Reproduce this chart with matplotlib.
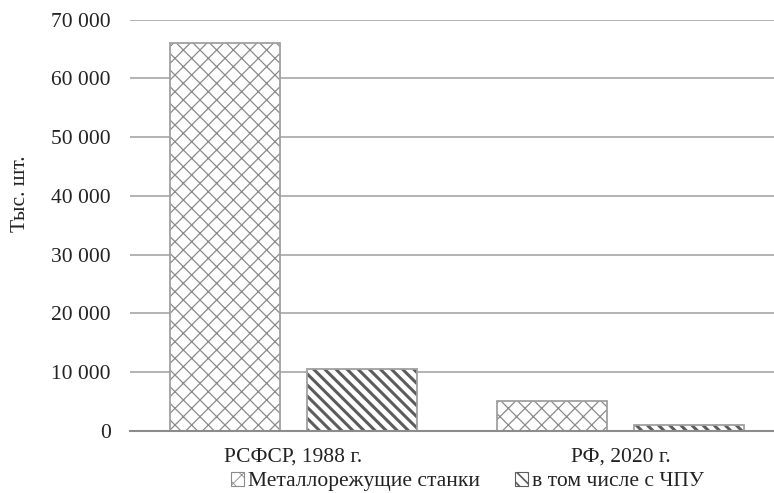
import numpy as np
import matplotlib.pyplot as plt
from matplotlib.ticker import FuncFormatter

plt.rcParams['font.family'] = ['Liberation Serif', 'DejaVu Serif']

categories = ["РСФСР, 1988 г.", "РФ, 2020 г."]
series_names = ["Металлорежущие станки", "в том числе с ЧПУ"]
metal = [66000, 5100]
cnc = [10500, 1000]

fig = plt.figure(figsize=(7.74, 4.93), dpi=100)
ax = fig.add_axes([0.168, 0.126, 0.832, 0.834])

x = np.arange(len(categories))
w = 0.336
off = 0.21
hatch_lw = [0.9, 2.2]
fs = 15.5

# hatch colour follows the edge colour, so draw the fill and the outline separately
b1 = ax.bar(x - off, metal, w, color="white", edgecolor="#8a8a8a",
            hatch="xx", linewidth=0, label=series_names[0], zorder=3)
b2 = ax.bar(x + off, cnc, w, color="white", edgecolor="#5c5c5c",
            hatch="\\\\\\", linewidth=0, label=series_names[1], zorder=3)
for bars, lw in zip([b1, b2], hatch_lw):
    for r in bars:
        r.set_hatch_linewidth(lw)
ax.bar(x - off, metal, w, fill=False, edgecolor="#a0a0a0", linewidth=1.3, zorder=4)
ax.bar(x + off, cnc, w, fill=False, edgecolor="#a0a0a0", linewidth=1.3, zorder=4)

ax.set_xlim(-0.5, 1.47)
ax.set_ylim(0, 70000)
ax.set_yticks(np.arange(0, 70001, 10000))
ax.yaxis.set_major_formatter(FuncFormatter(lambda v, _: f"{int(v):,}".replace(",", " ")))
ax.set_xticks(x)
ax.set_xticklabels(categories)
ax.tick_params(length=0, labelsize=fs, colors="#222222")
ax.tick_params(axis="x", pad=12)
ax.tick_params(axis="y", pad=14)
ax.grid(axis="y", color="#a6a6a6", linewidth=1.2, zorder=0)
for s in ["top", "right", "left"]:
    ax.spines[s].set_visible(False)
ax.spines["bottom"].set_color("#8c8c8c")
ax.spines["bottom"].set_linewidth(1.5)
ax.spines["bottom"].set_zorder(5)
ax.set_ylabel("Тыс. шт.", fontsize=fs, color="#222222")
ax.yaxis.set_label_coords(-0.155, 0.577)

leg = ax.legend(handles=[b1, b2], loc="upper center", bbox_to_anchor=(0.524, -0.1), ncol=2,
                frameon=False, fontsize=fs, handlelength=0.6, handleheight=0.6,
                handletextpad=0.2, columnspacing=1.6, labelcolor="#222222",
                borderaxespad=0, borderpad=0)
for h, lw in zip(leg.legend_handles, [0.6, 1.2]):
    h.set_hatch_linewidth(lw)
    h.set_linewidth(0.8)

fig.savefig("out.png", dpi=100)
